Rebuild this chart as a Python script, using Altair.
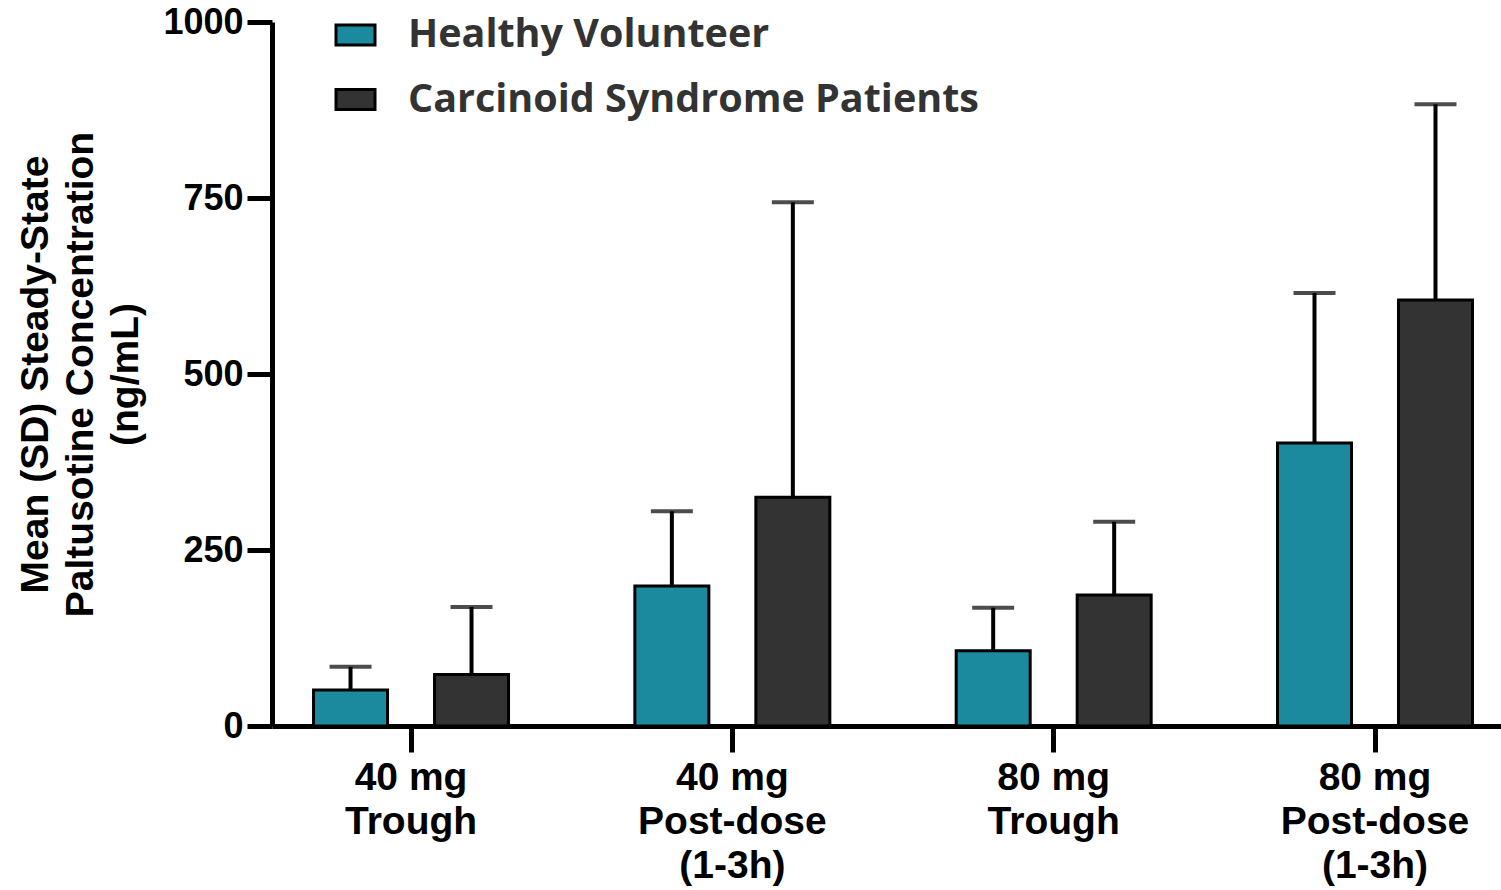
import altair as alt
import pandas as pd

# Dose / sampling-time categories (label lines separated by "|")
categories = ["40 mg|Trough", "40 mg|Post-dose|(1-3h)", "80 mg|Trough", "80 mg|Post-dose|(1-3h)"]
groups = ["Healthy Volunteer", "Carcinoid Syndrome Patients"]

# Mean steady-state concentration (ng/mL) and SD per group
hv_mean = [51, 199, 107, 402]
hv_sd = [33, 106, 61, 213]
cs_mean = [73, 325, 186, 605]
cs_sd = [96, 419, 104, 278]

colors = ["#1B8A9E", "#333333"]

rows = []
for cat, m, s in zip(categories, hv_mean, hv_sd):
    rows.append({"cat": cat, "group": groups[0], "mean": m, "upper": m + s})
for cat, m, s in zip(categories, cs_mean, cs_sd):
    rows.append({"cat": cat, "group": groups[1], "mean": m, "upper": m + s})
df = pd.DataFrame(rows)

x_enc = alt.X(
    "cat:N",
    sort=categories,
    scale=alt.Scale(paddingInner=0.3932, paddingOuter=0.109, align=0.593),
    axis=alt.Axis(
        title=None,
        labelAngle=0,
        labelExpr="split(datum.label, '|')",
        labelFont="Liberation Sans",
        labelFontWeight="bold",
        labelFontSize=39,
        labelLineHeight=44,
        labelColor="black",
        labelPadding=6,
        labelBaseline="top",
        labelLimit=0,
        tickSize=26,
        tickWidth=5,
        tickColor="black",
        domainWidth=5,
        domainColor="black",
        grid=False,
    ),
)
xoff_enc = alt.XOffset(
    "group:N", sort=groups, scale=alt.Scale(paddingInner=0.3884, paddingOuter=0)
)
y_scale = alt.Scale(domain=[0, 1000], nice=False, zero=True)

rect_symbol = "M-1,-0.513L1,-0.513L1,0.513L-1,0.513Z"

bars = (
    alt.Chart(df)
    .mark_bar(stroke="black", strokeWidth=3, strokeJoin="miter")
    .encode(
        x=x_enc,
        xOffset=xoff_enc,
        y=alt.Y(
            "mean:Q",
            scale=y_scale,
            axis=alt.Axis(
                title=["Mean (SD) Steady-State", "Paltusotine Concentration", "(ng/mL)"],
                values=[0, 250, 500, 750, 1000],
                format="d",
                labelFont="Liberation Sans",
                labelFontWeight="bold",
                labelFontSize=36,
                labelColor="black",
                labelPadding=4,
                titleFont="Liberation Sans",
                titleFontWeight="bold",
                titleFontSize=39,
                titleLineHeight=45,
                titleColor="black",
                titlePadding=17,
                tickSize=25,
                tickWidth=5,
                tickColor="black",
                domainWidth=5,
                domainColor="black",
                grid=False,
            ),
        ),
        color=alt.Color(
            "group:N",
            sort=groups,
            scale=alt.Scale(domain=groups, range=colors),
            legend=alt.Legend(
                title=None,
                orient="none",
                legendX=62.5,
                legendY=-8,
                symbolType=rect_symbol,
                symbolSize=1521,
                symbolStrokeColor="black",
                symbolStrokeWidth=3,
                symbolOpacity=1,
                labelFont="Open Sans",
                labelFontWeight="bold",
                labelFontSize=39.5,
                labelColor="#333333",
                labelOffset=31.5,
                labelLimit=0,
                labelBaseline="middle",
                rowPadding=23.5,
                padding=0,
            ),
        ),
    )
)

err_lines = (
    alt.Chart(df)
    .mark_rule(color="black", strokeWidth=4)
    .encode(x=x_enc, xOffset=xoff_enc, y=alt.Y("mean:Q", scale=y_scale), y2="upper:Q")
)

err_caps = (
    alt.Chart(df)
    .mark_tick(color="black", size=42, thickness=4)
    .encode(x=x_enc, xOffset=xoff_enc, y=alt.Y("upper:Q", scale=y_scale))
)

chart = (
    alt.layer(err_lines, bars, err_caps)
    .properties(
        width=1229,
        height=704,
        background="white",
        autosize=alt.AutoSizeParams(type="none"),
        padding={"left": 272, "top": 22, "right": 0, "bottom": 164},
    )
    .configure_axis(grid=False)
    .configure_view(stroke="transparent", strokeWidth=0)
)

chart.save("out.html", embed_options={"renderer": "svg", "actions": False})
